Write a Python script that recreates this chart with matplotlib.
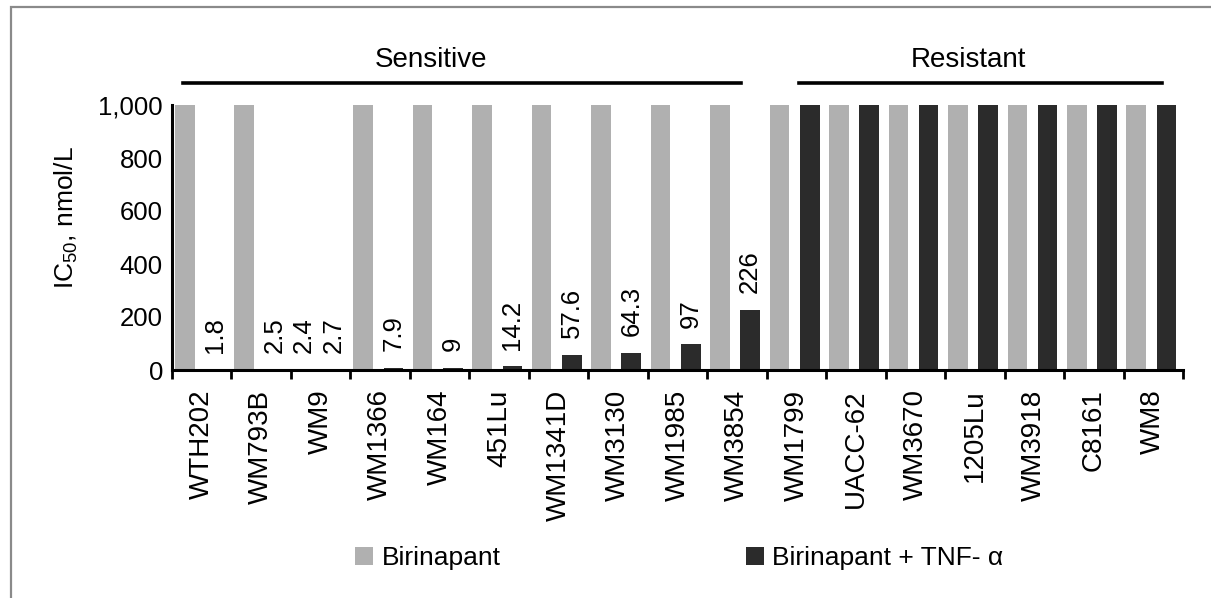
import matplotlib.pyplot as plt
import matplotlib.transforms as mtransforms
from matplotlib.patches import Rectangle
import numpy as np

# --- data ---
cell_lines = ["WTH202", "WM793B", "WM9", "WM1366", "WM164", "451Lu", "WM1341D",
              "WM3130", "WM1985", "WM3854", "WM1799", "UACC-62", "WM3670",
              "1205Lu", "WM3918", "C8161", "WM8"]
birinapant = [1000, 1000, 2.4, 1000, 1000, 1000, 1000, 1000, 1000, 1000,
              1000, 1000, 1000, 1000, 1000, 1000, 1000]
birinapant_tnf = [1.8, 2.5, 2.7, 7.9, 9, 14.2, 57.6, 64.3, 97, 226,
                  1000, 1000, 1000, 1000, 1000, 1000, 1000]
yticks = [0, 200, 400, 600, 800, 1000]
ytick_labels = ["0", "200", "400", "600", "800", "1,000"]
group_names = ["Sensitive", "Resistant"]

plt.rcParams['font.family'] = ['Liberation Sans', 'DejaVu Sans']
plt.rcParams['mathtext.fontset'] = 'custom'
plt.rcParams['mathtext.rm'] = 'Liberation Sans'

GRAY = '#b0b0b0'
DARK = '#2b2b2b'

fig = plt.figure(figsize=(12.11, 5.98), dpi=100)
# axes: x 172..1183 px, y 105..370 px
ax = fig.add_axes([172 / 1211, 1 - 370 / 598, 1011 / 1211, 265 / 598])

# figure frame (right and bottom edges fall outside the image)
fig.patches.append(Rectangle((11 / 1211, -0.02), 1.05, 0.02 + (1 - 7 / 598),
                             transform=fig.transFigure, fill=False,
                             edgecolor='#8a8a8a', linewidth=1.6))

x = np.arange(len(cell_lines))
w = 0.33
ax.bar(x + 0.214, birinapant, width=w, color=GRAY, label='Birinapant')
ax.bar(x + 0.723, birinapant_tnf, width=w, color=DARK, label='Birinapant + TNF- α')

# value labels for bars below the 1,000 cap
for xi, v in zip(x, birinapant):
    if v < 1000:
        ax.annotate(f"{v:g}", (xi + 0.214, v), xytext=(0, 12), textcoords='offset points',
                    rotation=90, ha='center', va='bottom', fontsize=18.5)
for xi, v in zip(x, birinapant_tnf):
    if v < 1000:
        ax.annotate(f"{v:g}", (xi + 0.723, v), xytext=(0, 12), textcoords='offset points',
                    rotation=90, ha='center', va='bottom', fontsize=18.5)

ax.set_xlim(0, len(cell_lines))
ax.set_ylim(0, 1000)

# ticks at category boundaries, labels in the middle
ax.set_xticks(np.arange(len(cell_lines) + 1))
ax.set_xticklabels([])
ax.set_xticks(x + 0.5, minor=True)
ax.set_xticklabels(cell_lines, minor=True, rotation=90, fontsize=20)
ax.tick_params(axis='x', which='major', direction='out', length=6.5, width=2)
ax.tick_params(axis='x', which='minor', length=0, pad=14)
ax.set_yticks(yticks)
ax.set_yticklabels(ytick_labels, fontsize=18.5)
ax.tick_params(axis='y', length=0, pad=6.5)

for s in ['top', 'right']:
    ax.spines[s].set_visible(False)
for s in ['left', 'bottom']:
    ax.spines[s].set_linewidth(2.2)

ax.set_ylabel(r'IC$_{50}$, nmol/L', fontsize=19)
ax.yaxis.set_label_coords(-0.091, 0.574)

# group brackets
trans = mtransforms.blended_transform_factory(ax.transData, ax.transAxes)
spans = [(0.19, 9.56, 4.35), (10.55, 16.65, 13.4)]
for name, (x0, x1, xt) in zip(group_names, spans):
    ax.plot([x0, x1], [1.083, 1.083], color='black', lw=2.6, transform=trans, clip_on=False)
    ax.text(xt, 1.17, name, transform=trans, ha='center', va='center', fontsize=20)

ax.legend(loc='center left', bbox_to_anchor=(355 / 1211, 1 - 558 / 598),
          bbox_transform=fig.transFigure, ncol=2, frameon=False, fontsize=19,
          handlelength=0.7, handleheight=0.7, handletextpad=0.3,
          columnspacing=9.3, borderaxespad=0, borderpad=0)

fig.savefig('out.png', dpi=100)
